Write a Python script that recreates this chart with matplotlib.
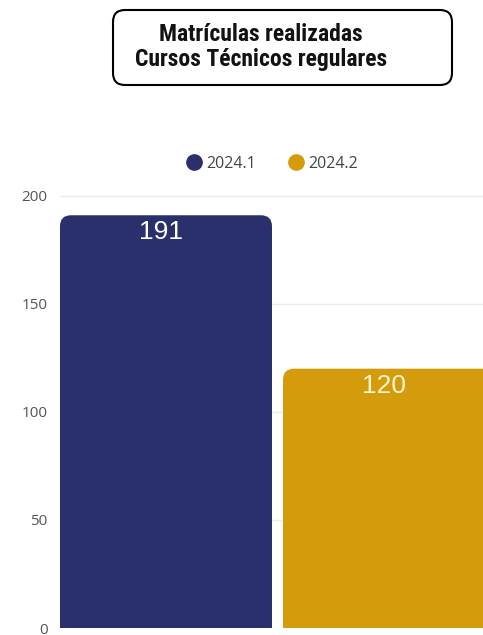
import matplotlib
matplotlib.use("Agg")
import matplotlib.pyplot as plt
from matplotlib.patches import FancyBboxPatch, Rectangle
from matplotlib.lines import Line2D
from matplotlib.transforms import offset_copy

# Data
series = ["2024.1", "2024.2"]
values = [191, 120]
colors = ["#2a306b", "#d49c0c"]
yticks = [0, 50, 100, 150, 200]
title_lines = ["Matrículas realizadas", "Cursos Técnicos regulares"]

W, H = 483, 635
fig = plt.figure(figsize=(W / 100, H / 100), dpi=100)

ax_left, ax_bottom, ax_top = 60, 628, 185
ax = fig.add_axes([ax_left / W, 1 - ax_bottom / H, (W - ax_left) / W, (ax_bottom - ax_top) / H])
ax.set_ylim(0, 205)
px_per_unit_x = 223.0
ax.set_xlim(-0.4753, -0.4753 + (W - ax_left) / px_per_unit_x)
width = 212 / px_per_unit_x

ax.set_yticks(yticks)
ax.set_yticklabels([str(t) for t in yticks], fontsize=11, color="#555555", family="Open Sans")
ax.tick_params(axis="y", length=0, pad=9)
ax.set_xticks([])
for s in ax.spines.values():
    s.set_visible(False)
ax.grid(axis="y", color="#ececec", linewidth=1)
ax.set_axisbelow(True)

px_per_unit_y = (ax_bottom - ax_top) / 205
r_px = 11
rx = r_px / px_per_unit_x
ry = r_px / px_per_unit_y
label_colors = ["white", "#fff3d0"]
lbl_trans = offset_copy(ax.transData, fig=fig, x=-5, y=-17, units="dots")
for i, (v, c) in enumerate(zip(values, colors)):
    x0 = i - width / 2
    ax.add_patch(Rectangle((x0, 0), width, v - ry * 2, facecolor=c, edgecolor="none", zorder=2))
    ax.add_patch(FancyBboxPatch((x0 + rx, ry * 1.0), width - 2 * rx, v - 2 * ry,
                                boxstyle=f"round,pad={rx},rounding_size={rx}",
                                mutation_aspect=ry / rx, facecolor=c, edgecolor="none", zorder=2))
    ax.text(i, v, str(v), ha="center", va="center", fontsize=19, transform=lbl_trans,
            color=label_colors[i], family="Liberation Sans", zorder=3)

# Legend
handles = [Line2D([], [], marker="o", linestyle="none", markersize=11, markerfacecolor=c,
                  markeredgecolor=c) for c in colors]
fig.legend(handles, series, loc="center", bbox_to_anchor=(272 / W, 1 - 164 / H), ncol=2,
           frameon=False, handletextpad=0.3, columnspacing=2.0, handlelength=1.0,
           prop={"family": "Open Sans", "size": 11.5}, labelcolor="#444444")

# Title box
fig.patches.append(FancyBboxPatch((113 / W, 1 - 85 / H), (452 - 113) / W, (85 - 10) / H,
                                  boxstyle="round,pad=0,rounding_size=0.025",
                                  mutation_aspect=W / H,
                                  transform=fig.transFigure, facecolor="white",
                                  edgecolor="black", linewidth=1.5))
fig.text(261 / W, 1 - 47 / H, "\n".join(title_lines), ha="center", va="center",
         fontsize=17, fontweight="bold", family=["Roboto Condensed", "DejaVu Sans"],
         color="#111111", linespacing=1.12)

fig.savefig("out.png", dpi=100)
